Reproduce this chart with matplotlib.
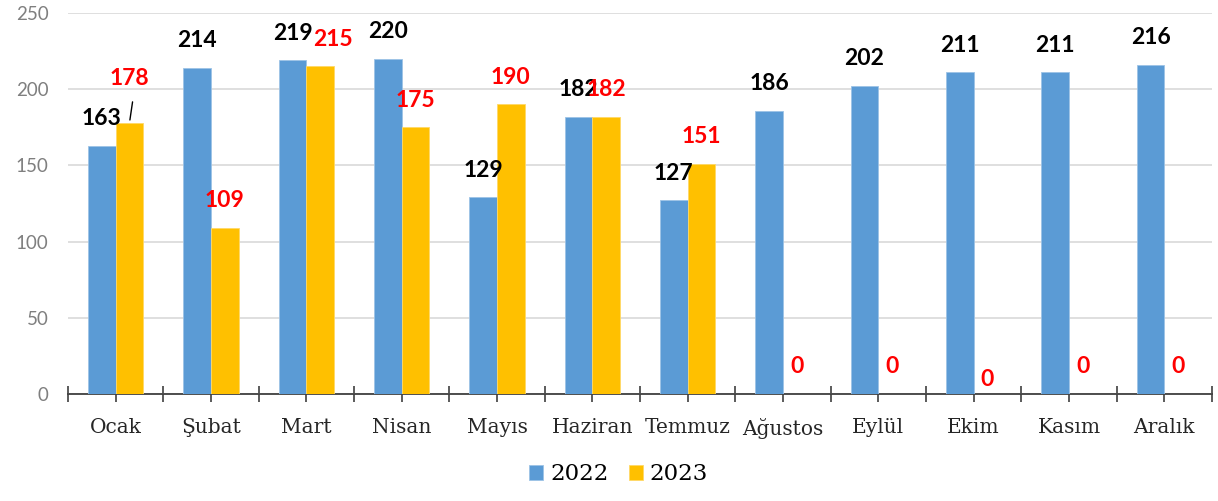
import matplotlib
matplotlib.use('Agg')
import matplotlib.pyplot as plt
from matplotlib.ticker import FixedLocator
import numpy as np

months = ['Ocak', 'Şubat', 'Mart', 'Nisan', 'Mayıs', 'Haziran', 'Temmuz',
          'Ağustos', 'Eylül', 'Ekim', 'Kasım', 'Aralık']
values_2022 = [163, 214, 219, 220, 129, 182, 127, 186, 202, 211, 211, 216]
values_2023 = [178, 109, 215, 175, 190, 182, 151, 0, 0, 0, 0, 0]
y_ticks = [0, 50, 100, 150, 200, 250]

blue = '#5B9BD5'
yellow = '#FFC000'

fig = plt.figure(figsize=(12.18, 5.01), dpi=100)
ax = fig.add_axes([68 / 1218, 107 / 501, 1144 / 1218, 381 / 501])

x = np.arange(len(months))
w = 0.29
b1 = ax.bar(x - w / 2, values_2022, w, color=blue, edgecolor='#9DC3E6', linewidth=0.6,
            label='2022', zorder=3)
b2 = ax.bar(x + w / 2, values_2023, w, color=yellow, edgecolor='#FFD966', linewidth=0.6,
            label='2023', zorder=3)

ax.set_xlim(-0.5, len(months) - 0.5)
ax.set_ylim(0, 250)
ax.set_yticks(y_ticks)
ax.yaxis.grid(True, color='#D9D9D9', linewidth=1.2, zorder=0)
ax.set_axisbelow(True)
for s in ['left', 'right', 'top']:
    ax.spines[s].set_visible(False)
ax.spines['bottom'].set_color('#404040')
ax.spines['bottom'].set_linewidth(1.3)
ax.tick_params(axis='y', length=0, labelsize=13.5, labelcolor='#7F7F7F', pad=14)
for t in ax.get_yticklabels():
    t.set_family('Lato')

# category boundary ticks (crossing) and centre ticks (outward)
ax.xaxis.set_major_locator(FixedLocator(np.arange(-0.5, len(months), 1.0)))
ax.xaxis.set_minor_locator(FixedLocator(x))
ax.tick_params(axis='x', which='major', direction='inout', length=12, width=1.2,
               color='#404040', labelbottom=False)
ax.tick_params(axis='x', which='minor', direction='out', length=6, width=1.2,
               color='#404040', labelsize=14.5, labelcolor='#262626', pad=11)
ax.set_xticks(x, months, minor=True, family='DejaVu Serif')

# labels: standard offset above bar top, with a few manual nudges (points)
nudge_2023 = {0: (0, 12), 2: (9, 0), 9: (0, -9)}
for i, v in enumerate(values_2022):
    ax.annotate(str(v), (x[i] - w / 2, v), xytext=(0, 12), textcoords='offset points',
                ha='center', va='bottom', fontsize=16.5, fontweight='bold',
                family='Lato', color='black', zorder=5)
for i, v in enumerate(values_2023):
    dx, dy = nudge_2023.get(i, (0, 0))
    ax.annotate(str(v), (x[i] + w / 2, v), xytext=(dx, 12 + dy), textcoords='offset points',
                ha='center', va='bottom', fontsize=16.5, fontweight='bold',
                family='Lato', color='#FF0000', zorder=6)
# leader line for the raised Ocak label
ax.annotate('', (x[0] + w / 2, values_2023[0]), xytext=(2.5, 17), textcoords='offset points',
            arrowprops=dict(arrowstyle='-', color='black', lw=1), zorder=6)

fig.legend(handles=[b1, b2], labels=['2022', '2023'], loc='lower center',
           bbox_to_anchor=(0.508, -0.01), ncol=2, frameon=False,
           handlelength=0.6, handleheight=0.6, handletextpad=0.3, columnspacing=0.9,
           prop={'family': 'DejaVu Serif', 'size': 16.5})

fig.savefig('out.png', dpi=100)
